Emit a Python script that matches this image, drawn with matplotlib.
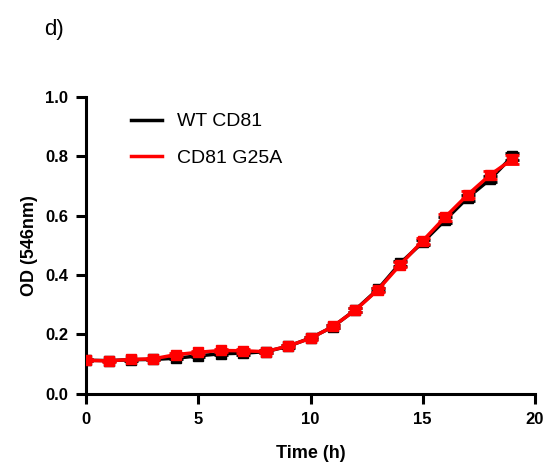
import matplotlib
matplotlib.use("Agg")
import matplotlib.pyplot as plt
from matplotlib.lines import Line2D

plt.rcParams['font.family'] = ['Liberation Sans', 'DejaVu Sans']

# datos
tiempo = [0, 1, 2, 3, 4, 5, 6, 7, 8, 9, 10, 11, 12, 13, 14, 15, 16, 17, 18, 19]
od_wt = [0.113, 0.112, 0.115, 0.116, 0.120, 0.128, 0.135, 0.137, 0.142, 0.160, 0.188,
         0.226, 0.283, 0.352, 0.440, 0.510, 0.585, 0.660, 0.722, 0.800]
err_wt = [0.003, 0.003, 0.003, 0.003, 0.004, 0.004, 0.005, 0.005, 0.004, 0.004, 0.004,
          0.005, 0.006, 0.006, 0.008, 0.008, 0.010, 0.010, 0.010, 0.012]
od_g25a = [0.113, 0.111, 0.116, 0.118, 0.132, 0.140, 0.146, 0.145, 0.142, 0.161, 0.187,
           0.227, 0.282, 0.350, 0.435, 0.515, 0.595, 0.670, 0.737, 0.790]
err_g25a = [0.003, 0.003, 0.003, 0.003, 0.005, 0.005, 0.006, 0.006, 0.004, 0.004, 0.004,
            0.005, 0.006, 0.006, 0.008, 0.010, 0.012, 0.012, 0.012, 0.015]

fig = plt.figure(figsize=(5.52, 4.70), dpi=100)
ax = fig.add_axes([0.156, 0.162, 0.813, 0.632])

ax.errorbar(tiempo, od_wt, yerr=err_wt, color='black', marker='s', markersize=7.5,
            linewidth=2.5, capsize=5, capthick=2, elinewidth=2, label='WT CD81', zorder=3)
ax.errorbar(tiempo, od_g25a, yerr=err_g25a, color='#ff0000', marker='s', markersize=7.5,
            linewidth=2.5, capsize=5, capthick=2, elinewidth=2, label='CD81 G25A', zorder=4)

ax.set_xlim(0, 20)
ax.set_ylim(0, 1.0)
ax.set_xticks([0, 5, 10, 15, 20])
ax.set_yticks([0.0, 0.2, 0.4, 0.6, 0.8, 1.0])
ax.set_yticklabels(['0.0', '0.2', '0.4', '0.6', '0.8', '1.0'])

for s in ['top', 'right']:
    ax.spines[s].set_visible(False)
for s in ['left', 'bottom']:
    ax.spines[s].set_linewidth(2.2)
ax.tick_params(direction='out', length=7, width=2.2, labelsize=12, pad=6)
for lbl in ax.get_xticklabels() + ax.get_yticklabels():
    lbl.set_fontweight('bold')

ax.set_xlabel('Time (h)', fontsize=13, fontweight='bold', labelpad=13)
ax.set_ylabel('OD (546nm)', fontsize=13, fontweight='bold', labelpad=5)

labels = ['WT CD81', 'CD81 G25A']
h = [Line2D([], [], color='black', linewidth=2.5), Line2D([], [], color='#ff0000', linewidth=2.5)]
ax.legend(h, labels, loc='upper left', bbox_to_anchor=(0.06, 1.005), frameon=False,
          fontsize=14, handlelength=1.6, handletextpad=0.8, labelspacing=0.95)

fig.text(0.08, 0.925, 'd)', fontsize=16)

fig.savefig('out.png', dpi=100)
